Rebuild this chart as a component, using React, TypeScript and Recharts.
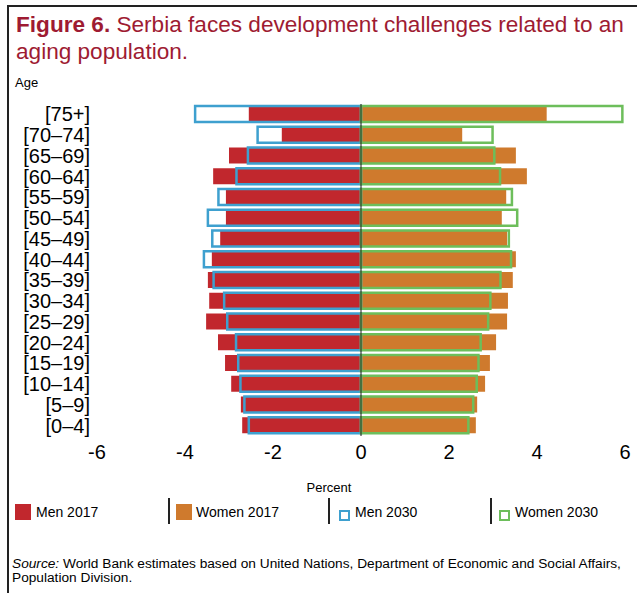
import React from 'react';
import { BarChart, Bar, XAxis, YAxis, ReferenceLine } from 'recharts';

const FONT = '"Liberation Sans", Arial, sans-serif';

// age groups, top to bottom
const ageGroups = ['[75+]', '[70–74]', '[65–69]', '[60–64]', '[55–59]', '[50–54]', '[45–49]', '[40–44]', '[35–39]', '[30–34]', '[25–29]', '[20–24]', '[15–19]', '[10–14]', '[5–9]', '[0–4]'];
const men2017 = [-2.55, -1.8, -3.0, -3.36, -3.07, -3.07, -3.2, -3.39, -3.48, -3.45, -3.52, -3.25, -3.09, -2.95, -2.73, -2.7];
const women2017 = [4.22, 2.3, 3.52, 3.77, 3.3, 3.2, 3.32, 3.52, 3.45, 3.34, 3.32, 3.07, 2.93, 2.82, 2.64, 2.61];
const men2030 = [-3.77, -2.35, -2.57, -2.83, -3.24, -3.48, -3.38, -3.57, -3.35, -3.11, -3.04, -2.84, -2.79, -2.74, -2.65, -2.55];
const women2030 = [5.94, 2.99, 3.03, 3.16, 3.43, 3.55, 3.36, 3.41, 3.17, 2.94, 2.89, 2.72, 2.67, 2.63, 2.55, 2.44];
const percentTicks = [-6, -4, -2, 0, 2, 4, 6];

const RED = '#c1272d';
const ORANGE = '#cf7a2d';
const BLUE = '#3ea0cf';
const GREEN = '#6dbe5b';
const TITLE = '#9e1b32';

const legendItems = [
  { name: 'Men 2017', color: RED, filled: true, box: 15, text: 36 },
  { name: 'Women 2017', color: ORANGE, filled: true, box: 176, text: 196 },
  { name: 'Men 2030', color: BLUE, filled: false, box: 339, text: 355 },
  { name: 'Women 2030', color: GREEN, filled: false, box: 499, text: 515 },
];
const separators = [168, 328, 490];

const data = ageGroups.map((age, i) => ({
  age,
  men2017: men2017[i],
  women2017: women2017[i],
  men2030: men2030[i],
  women2030: women2030[i],
}));

export default function App() {
  return (
    <div style={{ position: 'absolute', left: 0, top: 0, width: 637, height: 593, background: '#fff', fontFamily: FONT, overflow: 'hidden' }}>
      {/* frame */}
      <div style={{ position: 'absolute', left: 7, top: 5, width: 640, height: 1.5, background: '#222' }} />
      <div style={{ position: 'absolute', left: 7, top: 5, width: 1.5, height: 600, background: '#222' }} />

      <div style={{ position: 'absolute', left: 16, top: 11, fontSize: 22.6, lineHeight: '27px', color: TITLE, whiteSpace: 'nowrap' }}>
        <b>Figure 6.</b> Serbia faces development challenges related to an
        <br />
        aging population.
      </div>
      <div style={{ position: 'absolute', left: 15, top: 76, fontSize: 13, lineHeight: '13px', color: '#000' }}>Age</div>

      <div style={{ position: 'absolute', left: 0, top: 0 }}>
        <BarChart
          width={637}
          height={480}
          data={data}
          layout="vertical"
          barSize={16}
          barGap={-16}
          margin={{ top: 104, right: 12, left: 0, bottom: 0 }}
          style={{ fontFamily: FONT }}
        >
          <XAxis
            type="number"
            domain={[-6, 6]}
            ticks={percentTicks}
            height={44}
            axisLine={false}
            tickLine={false}
            tickSize={0}
            tickMargin={9}
            tick={{ fontSize: 20, fill: '#000' }}
          />
          <YAxis
            type="category"
            dataKey="age"
            width={97}
            interval={0}
            axisLine={false}
            tickLine={false}
            tickSize={0}
            tickMargin={7}
            tick={{ fontSize: 20, fill: '#000' }}
          />
          <Bar dataKey="men2017" fill={RED} isAnimationActive={false} />
          <Bar dataKey="women2017" fill={ORANGE} isAnimationActive={false} />
          <Bar dataKey="men2030" fill="none" stroke={BLUE} strokeWidth={2.5} isAnimationActive={false} />
          <Bar dataKey="women2030" fill="none" stroke={GREEN} strokeWidth={2.5} isAnimationActive={false} />
          <ReferenceLine x={0} stroke="#222" strokeWidth={1} />
        </BarChart>
      </div>

      <div style={{ position: 'absolute', left: 329, top: 481, transform: 'translateX(-50%)', fontSize: 13, lineHeight: '13px', color: '#000' }}>Percent</div>

      {legendItems.map((it) => (
        <React.Fragment key={it.name}>
          {it.filled ? (
            <div style={{ position: 'absolute', left: it.box, top: 504, width: 16, height: 16, background: it.color }} />
          ) : (
            <div style={{ position: 'absolute', left: it.box, top: 510, width: 7, height: 7, border: `2px solid ${it.color}` }} />
          )}
          <div style={{ position: 'absolute', left: it.text, top: 505, fontSize: 14, lineHeight: '14px', color: '#000', whiteSpace: 'nowrap' }}>{it.name}</div>
        </React.Fragment>
      ))}
      {separators.map((x) => (
        <div key={x} style={{ position: 'absolute', left: x, top: 498, width: 1.5, height: 26, background: '#222' }} />
      ))}

      <div style={{ position: 'absolute', left: 12, top: 557, fontSize: 13.7, lineHeight: '14px', color: '#000', whiteSpace: 'nowrap' }}>
        <i>Source:</i> World Bank estimates based on United Nations, Department of Economic and Social Affairs,
        <br />
        Population Division.
      </div>
    </div>
  );
}
